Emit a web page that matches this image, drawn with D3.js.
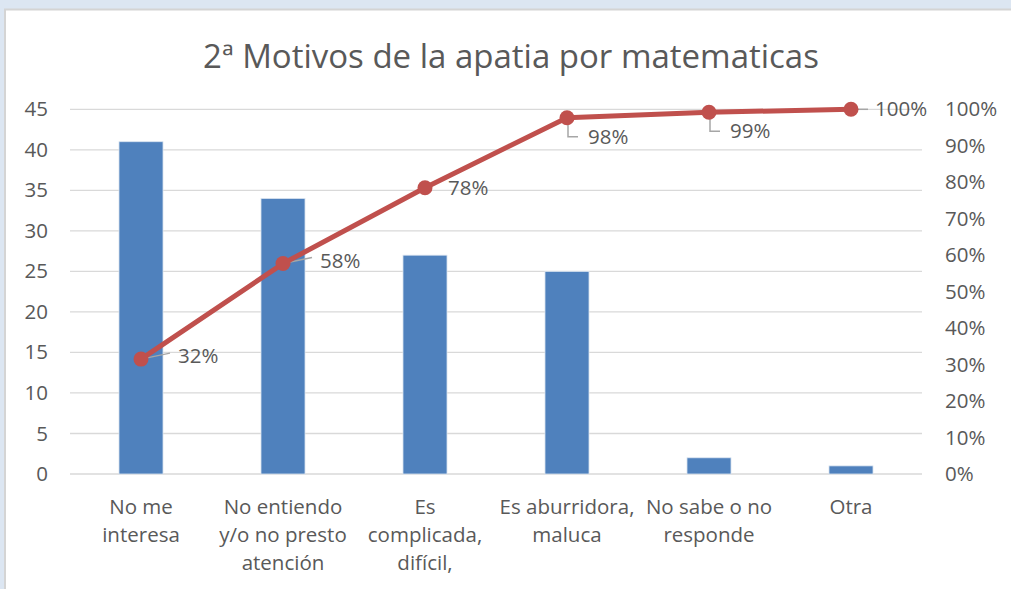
<!DOCTYPE html>
<html>
<head>
<meta charset="utf-8">
<script src="https://cdn.jsdelivr.net/npm/d3@7"></script>
<style>
  html, body { margin: 0; padding: 0; background: #dce6f2; }
  svg { display: block; }
  text { font-family: "Open Sans", Lato, sans-serif; fill: #595959; }
</style>
</head>
<body>
<svg id="chart" width="1011" height="589"></svg>
<script>
const title = "2ª Motivos de la apatia por matematicas";
const categories = [
  ["No me", "interesa"],
  ["No entiendo", "y/o no presto", "atención"],
  ["Es", "complicada,", "difícil,"],
  ["Es aburridora,", "maluca"],
  ["No sabe o no", "responde"],
  ["Otra"]
];
const counts = [41, 34, 27, 25, 2, 1];
const cumulativePct = [31.5, 57.7, 78.5, 97.7, 99.2, 100];
const cumulativeLabels = ["32%", "58%", "78%", "98%", "99%", "100%"];
const leftTicks = [0, 5, 10, 15, 20, 25, 30, 35, 40, 45];
const rightTicks = [0, 10, 20, 30, 40, 50, 60, 70, 80, 90, 100];
const labelStyles = ["right-leader", "right-leader", "right", "below", "below", "right-leader"];

const FS = 20.5;
const FONT = "'Open Sans', Lato, sans-serif";
const svg = d3.select("#chart");
svg.append("rect").attr("x", 5).attr("y", 9.5).attr("width", 1011).attr("height", 600)
  .attr("fill", "#ffffff").attr("stroke", "#d4d4d4").attr("stroke-width", 2);

const plot = { left: 70, right: 922, top: 109.3, bottom: 474 };

const x = d3.scaleBand().domain(d3.range(categories.length))
  .range([plot.left, plot.right]).paddingInner(0.69).paddingOuter(0.345);
const xc = i => x(i) + x.bandwidth() / 2;
const yL = d3.scaleLinear().domain([0, 45]).range([plot.bottom, plot.top]);
const yR = d3.scaleLinear().domain([0, 100]).range([plot.bottom, plot.top]);

svg.append("g").selectAll("line").data(leftTicks).join("line")
  .attr("x1", plot.left).attr("x2", plot.right)
  .attr("y1", d => yL(d)).attr("y2", d => yL(d))
  .attr("stroke", "#d9d9d9").attr("stroke-width", 1.3);

const gL = svg.append("g").attr("transform", `translate(${plot.left},0)`)
  .call(d3.axisLeft(yL).tickValues(leftTicks).tickSize(0).tickPadding(22));
gL.select(".domain").remove();
gL.selectAll("text").attr("font-size", FS).attr("fill", "#595959").style("font-family", FONT);

const gR = svg.append("g").attr("transform", `translate(${plot.right},0)`)
  .call(d3.axisRight(yR).tickValues(rightTicks).tickFormat(d => d + "%").tickSize(0).tickPadding(23));
gR.select(".domain").remove();
gR.selectAll("text").attr("font-size", FS).attr("fill", "#595959").style("font-family", FONT);

svg.append("g").selectAll("rect").data(counts).join("rect")
  .attr("x", (d, i) => x(i)).attr("width", x.bandwidth())
  .attr("y", d => yL(d)).attr("height", d => yL(0) - yL(d))
  .attr("fill", "#4f81bd").attr("stroke", "#dbe5f1").attr("stroke-width", 0.8);

const cg = svg.append("g");
categories.forEach((lines, i) => {
  const t = cg.append("text").attr("text-anchor", "middle").attr("font-size", FS)
    .attr("x", xc(i)).attr("y", 514);
  lines.forEach((ln, j) => {
    t.append("tspan").attr("x", xc(i)).attr("dy", j === 0 ? 0 : 28).text(ln);
  });
});

const lg = svg.append("g");
cumulativePct.forEach((p, i) => {
  const px = xc(i), py = yR(p);
  const s = labelStyles[i];
  if (s === "right-leader") {
    lg.append("path").attr("d", i === 5 ? `M${px},${py} H${px + 17}` : `M${px},${py} L${px + 29},${py - 6}`)
      .attr("stroke", "#a6a6a6").attr("stroke-width", 1.5).attr("fill", "none");
  } else if (s === "below") {
    lg.append("path").attr("d", `M${px + 1},${py} V${py + 19} H${px + 11}`)
      .attr("stroke", "#a6a6a6").attr("stroke-width", 1.5).attr("fill", "none");
  }
});

const line = d3.line().x((d, i) => xc(i)).y(d => yR(d));
svg.append("path").datum(cumulativePct).attr("d", line)
  .attr("fill", "none").attr("stroke", "#c0504d").attr("stroke-width", 5).attr("stroke-linejoin", "round");
svg.append("g").selectAll("circle").data(cumulativePct).join("circle")
  .attr("cx", (d, i) => xc(i)).attr("cy", d => yR(d)).attr("r", 7.5).attr("fill", "#c0504d");

svg.append("g").selectAll("text").data(cumulativePct).join("text")
  .attr("font-size", FS).attr("fill", "#404040").style("font-family", FONT)
  .attr("x", (d, i) => {
    const s = labelStyles[i];
    if (s === "below") return xc(i) + 21;
    if (s === "right") return xc(i) + 23;
    return xc(i) + (i === 5 ? 24 : 37);
  })
  .attr("y", (d, i) => {
    const s = labelStyles[i];
    if (s === "below") return yR(d) + 26;
    return yR(d) + 7 - (s === "right-leader" && i < 5 ? 3 : 0);
  })
  .text((d, i) => cumulativeLabels[i]);

svg.append("text").attr("x", 511).attr("y", 68).attr("text-anchor", "middle")
  .attr("font-size", 33).attr("fill", "#595959").style("font-family", FONT).text(title);
</script>
</body>
</html>
